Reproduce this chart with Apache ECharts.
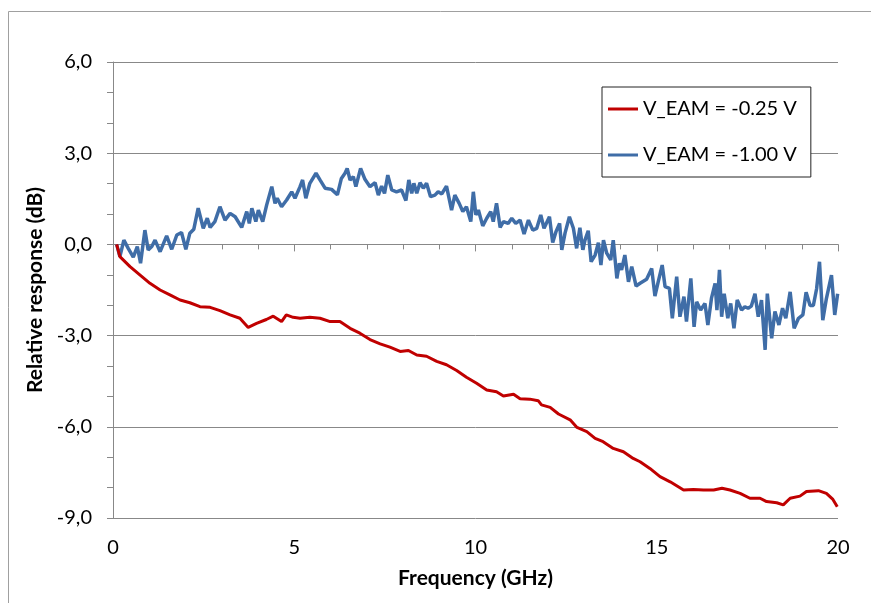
<!DOCTYPE html>
<html>
<head>
<meta charset="utf-8">
<script src="https://cdn.jsdelivr.net/npm/echarts@6/dist/echarts.min.js"></script>
<style>
  html, body { margin: 0; padding: 0; background: #fff; }
  #chart { width: 871px; height: 603px; }
</style>
</head>
<body>
<div id="chart"></div>
<script>
var seriesNames = ['V_EAM = -0.25 V', 'V_EAM = -1.00 V'];

var redFreq = [0.10, 0.19, 0.47, 0.74, 1.02, 1.30, 1.57, 1.85, 2.12, 2.40, 2.68, 2.95, 3.23, 3.50, 3.73, 3.96, 4.23, 4.42, 4.65, 4.78, 4.97, 5.16, 5.43, 5.71, 5.99, 6.26, 6.54, 6.81, 7.09, 7.37, 7.64, 7.92, 8.15, 8.38, 8.65, 8.93, 9.20, 9.48, 9.75, 10.03, 10.31, 10.58, 10.77, 11.05, 11.23, 11.50, 11.73, 11.82, 12.06, 12.29, 12.61, 12.80, 13.07, 13.30, 13.52, 13.80, 14.08, 14.35, 14.54, 14.81, 15.09, 15.37, 15.74, 16.01, 16.29, 16.57, 16.80, 17.02, 17.30, 17.57, 17.85, 18.03, 18.31, 18.49, 18.68, 18.95, 19.13, 19.46, 19.68, 19.86, 19.98];
var redDb = [0.00, -0.40, -0.73, -1.00, -1.28, -1.50, -1.66, -1.83, -1.92, -2.05, -2.07, -2.18, -2.32, -2.43, -2.73, -2.60, -2.47, -2.36, -2.54, -2.32, -2.40, -2.43, -2.40, -2.43, -2.54, -2.54, -2.76, -2.92, -3.13, -3.27, -3.38, -3.52, -3.49, -3.64, -3.68, -3.85, -3.96, -4.15, -4.37, -4.57, -4.79, -4.85, -4.99, -4.93, -5.08, -5.09, -5.14, -5.28, -5.36, -5.58, -5.77, -6.02, -6.16, -6.38, -6.49, -6.71, -6.82, -7.04, -7.15, -7.37, -7.64, -7.81, -8.08, -8.06, -8.08, -8.08, -8.02, -8.08, -8.19, -8.35, -8.35, -8.46, -8.50, -8.57, -8.35, -8.28, -8.13, -8.10, -8.19, -8.39, -8.63];

var blueFreq = [0.10, 0.19, 0.30, 0.42, 0.56, 0.67, 0.76, 0.88, 0.97, 1.07, 1.16, 1.30, 1.48, 1.62, 1.76, 1.89, 2.01, 2.12, 2.23, 2.35, 2.49, 2.60, 2.68, 2.81, 2.95, 3.09, 3.23, 3.37, 3.55, 3.69, 3.76, 3.83, 3.94, 4.01, 4.13, 4.24, 4.38, 4.47, 4.53, 4.65, 4.79, 4.93, 5.02, 5.16, 5.23, 5.32, 5.43, 5.60, 5.71, 5.85, 6.03, 6.19, 6.30, 6.40, 6.46, 6.54, 6.63, 6.70, 6.83, 6.95, 7.09, 7.23, 7.32, 7.41, 7.49, 7.58, 7.69, 7.82, 7.96, 8.08, 8.16, 8.24, 8.30, 8.38, 8.47, 8.56, 8.65, 8.76, 8.88, 8.97, 9.07, 9.20, 9.34, 9.43, 9.55, 9.65, 9.75, 9.87, 9.94, 10.01, 10.08, 10.20, 10.31, 10.42, 10.49, 10.58, 10.68, 10.77, 10.90, 11.00, 11.11, 11.23, 11.34, 11.46, 11.58, 11.69, 11.80, 11.89, 12.04, 12.13, 12.22, 12.32, 12.38, 12.47, 12.59, 12.70, 12.79, 12.88, 12.96, 13.02, 13.11, 13.19, 13.30, 13.39, 13.46, 13.53, 13.62, 13.73, 13.80, 13.90, 13.97, 14.03, 14.12, 14.22, 14.31, 14.43, 14.54, 14.72, 14.86, 14.95, 15.04, 15.15, 15.23, 15.35, 15.43, 15.55, 15.64, 15.75, 15.82, 15.94, 16.03, 16.10, 16.21, 16.33, 16.41, 16.51, 16.61, 16.66, 16.73, 16.79, 16.86, 16.96, 17.04, 17.13, 17.22, 17.34, 17.43, 17.52, 17.61, 17.71, 17.80, 17.89, 17.99, 18.05, 18.17, 18.26, 18.37, 18.47, 18.56, 18.68, 18.79, 18.91, 19.03, 19.12, 19.23, 19.32, 19.41, 19.49, 19.58, 19.68, 19.82, 19.91, 19.99];
var blueDb = [0.00, -0.40, 0.14, -0.13, -0.42, -0.07, -0.62, 0.47, -0.18, -0.07, 0.14, -0.24, 0.28, -0.16, 0.31, 0.39, -0.16, 0.37, 0.50, 1.19, 0.53, 0.86, 0.56, 0.75, 1.24, 0.80, 1.02, 0.91, 0.56, 1.08, 0.69, 1.19, 0.75, 1.13, 0.75, 1.30, 1.90, 1.35, 1.52, 1.24, 1.46, 1.73, 1.52, 1.90, 2.12, 1.52, 2.01, 2.34, 2.12, 1.85, 1.81, 1.63, 2.17, 2.34, 2.50, 2.12, 2.23, 1.90, 2.50, 2.14, 1.90, 2.03, 1.62, 1.92, 1.68, 2.28, 1.79, 1.73, 1.79, 1.44, 2.12, 1.68, 2.01, 1.68, 2.03, 1.85, 2.01, 1.57, 1.62, 1.73, 1.66, 1.92, 1.13, 1.62, 1.35, 1.08, 1.24, 0.75, 1.73, 0.97, 1.13, 0.61, 0.86, 1.08, 0.75, 1.35, 0.56, 0.75, 0.69, 0.86, 0.69, 0.80, 0.34, 0.80, 0.47, 0.53, 0.97, 0.53, 0.91, 0.06, 0.42, 0.69, -0.18, 0.37, 0.91, 0.53, -0.13, 0.55, -0.18, 0.14, 0.45, -0.57, -0.35, 0.06, -0.68, 0.14, -0.29, -0.51, 0.14, -1.12, -0.62, -0.84, -0.35, -1.23, -0.73, -1.37, -1.28, -1.15, -0.79, -1.70, -1.23, -0.68, -1.39, -1.45, -2.43, -1.06, -2.38, -1.72, -2.54, -1.12, -2.71, -1.89, -2.16, -1.94, -2.65, -1.77, -1.28, -2.16, -0.84, -2.38, -1.62, -2.43, -1.94, -2.76, -1.83, -2.16, -2.05, -2.10, -2.03, -1.62, -2.38, -1.83, -3.47, -1.62, -3.09, -2.21, -2.65, -2.10, -2.43, -1.56, -2.76, -2.43, -2.32, -1.57, -2.01, -2.01, -1.46, -0.57, -2.49, -1.78, -1.01, -2.32, -1.62];

var xMin = 0, xMax = 20, xStep = 5;
var yMin = -9, yMax = 6, yStep = 3;

function pairs(xs, ys) {
  return xs.map(function(x, i) { return [x, ys[i]]; });
}

var font = 'Lato, "Liberation Sans", sans-serif';
var axisGray = '#888888';

var chart = echarts.init(document.getElementById('chart'), null, { renderer: 'canvas' });
chart.setOption({
  animation: false,
  textStyle: { fontFamily: font },
  graphic: [{
    type: 'rect',
    shape: { x: 8.5, y: 11.5, width: 900, height: 700 },
    style: { fill: 'none', stroke: '#a0a0a0', lineWidth: 1 },
    silent: true
  }],
  grid: { left: 113, right: 33, top: 62, bottom: 85 },
  legend: {
    orient: 'vertical',
    left: 602,
    top: 87,
    padding: [12, 14, 12, 6],
    itemGap: 26,
    itemWidth: 30,
    itemHeight: 3,
    icon: 'rect',
    borderColor: '#222',
    borderWidth: 1,
    backgroundColor: '#fff',
    data: seriesNames,
    textStyle: { fontSize: 20, lineHeight: 20, color: '#000', fontFamily: font }
  },
  xAxis: {
    type: 'value',
    min: xMin,
    max: xMax,
    interval: xStep,
    name: 'Frequency (GHz)',
    nameLocation: 'middle',
    nameGap: 50,
    nameTextStyle: { fontSize: 21, fontWeight: 'bold', color: '#000', fontFamily: font },
    axisLine: { show: true, lineStyle: { color: axisGray, width: 1 } },
    axisTick: { show: true, length: 7, lineStyle: { color: axisGray } },
    minorTick: { show: true, splitNumber: 5, length: 5, lineStyle: { color: axisGray } },
    axisLabel: { fontSize: 20, color: '#000', margin: 20 },
    splitLine: { show: false }
  },
  yAxis: {
    type: 'value',
    min: yMin,
    max: yMax,
    interval: yStep,
    name: 'Relative response (dB)',
    nameLocation: 'middle',
    nameGap: 66,
    nameTextStyle: { fontSize: 21, fontWeight: 'bold', color: '#000', fontFamily: font },
    axisLine: { show: true, lineStyle: { color: axisGray, width: 1 } },
    axisTick: { show: true, length: 6, lineStyle: { color: axisGray } },
    minorTick: { show: true, splitNumber: 3, length: 6, lineStyle: { color: axisGray } },
    axisLabel: {
      fontSize: 20,
      color: '#000',
      margin: 21,
      formatter: function(v) { return v.toFixed(1).replace('.', ','); }
    },
    splitLine: { show: true, lineStyle: { color: axisGray, width: 1 } }
  },
  series: [
    {
      name: seriesNames[0],
      type: 'line',
      symbol: 'none',
      data: pairs(redFreq, redDb),
      color: '#C00000',
      lineStyle: { color: '#C00000', width: 3 },
      z: 3
    },
    {
      name: seriesNames[1],
      type: 'line',
      symbol: 'none',
      data: pairs(blueFreq, blueDb),
      color: '#3F6DA7',
      lineStyle: { color: '#3F6DA7', width: 3.5 },
      z: 2
    }
  ]
});
window.addEventListener('resize', function() { chart.resize(); });
</script>
</body>
</html>
